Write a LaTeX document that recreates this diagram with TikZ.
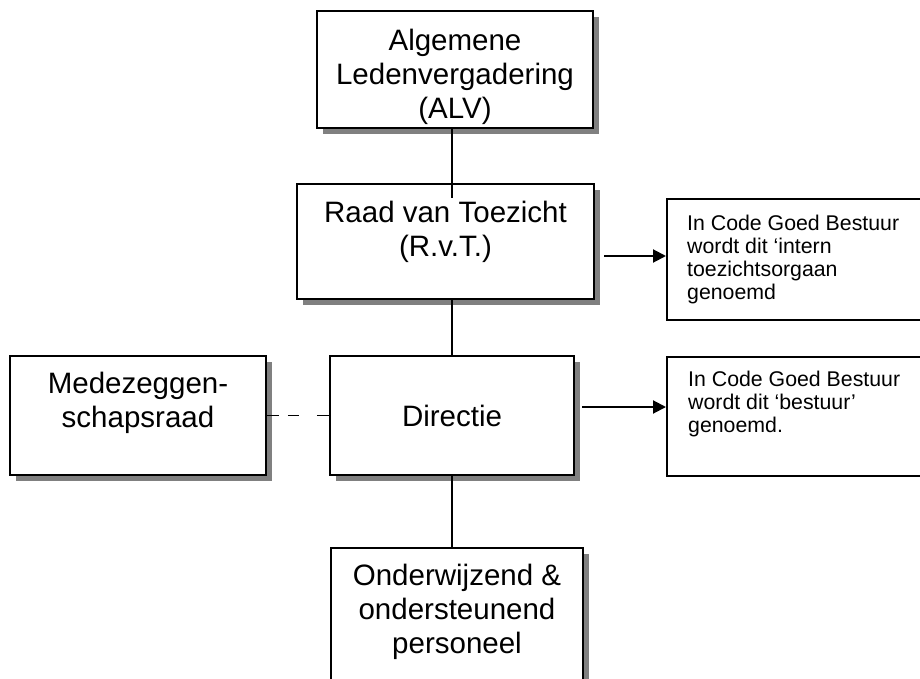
\documentclass[tikz,border=0pt]{standalone}
\usepackage{fontspec}
\setmainfont{Liberation Sans}
\usetikzlibrary{shadows,arrows.meta}
\tikzset{
  orgbox/.style={draw=black, line width=1.9pt, fill=white, inner sep=0pt,
    drop shadow={shadow xshift=6pt, shadow yshift=-6pt, fill=black!50, opacity=1}},
  notebox/.style={draw=black, line width=1.9pt, fill=white, inner sep=0pt},
  bigtxt/.style={font=\fontsize{29.5}{34}\selectfont, align=center, inner sep=0pt},
  smalltxt/.style={font=\fontsize{21.3}{22.8}\selectfont, align=left, inner sep=0pt},
  conn/.style={line width=1.6pt},
  arr/.style={line width=2pt, -{Triangle[length=13pt,width=13pt]}}
}
\begin{document}
\begin{tikzpicture}[x=1pt,y=-1pt]
\useasboundingbox (0,0) rectangle (920,679);
\clip (0,0) rectangle (920,679);
% boxes
\node[orgbox, minimum width=276pt, minimum height=117pt] (alv) at (455,69.5) {};
\node[orgbox, minimum width=297pt, minimum height=115pt] (rvt) at (445.5,241.5) {};
\node[orgbox, minimum width=244pt, minimum height=119pt] (dir) at (452,415.5) {};
\node[orgbox, minimum width=256pt, minimum height=119pt] (mzr) at (138,415.5) {};
\node[orgbox, minimum width=252pt, minimum height=160pt] (ow) at (457,628) {};
\node[notebox, minimum width=270pt, minimum height=121pt, anchor=north west] (n1) at (666,198) {};
\node[notebox, minimum width=270pt, minimum height=119pt, anchor=north west] (n2) at (666,356) {};
% texts
\node[bigtxt, anchor=north, yshift=-19pt] (alvt) at (alv.north) {Algemene\\Ledenvergadering\\(ALV)};
\node[bigtxt, anchor=north, yshift=-18pt] (rvtt) at (rvt.north) {Raad van Toezicht\\(R.v.T.)};
\node[bigtxt] (dirt) at (dir.center) {Directie};
\node[bigtxt, anchor=north, yshift=-17pt] (mzrt) at (mzr.north) {Medezeggen-\\schapsraad};
\node[bigtxt, anchor=north, yshift=-17pt] (owt) at (ow.north) {Onderwijzend \&\\ondersteunend\\personeel};
\node[smalltxt, anchor=north west, xshift=21pt, yshift=-17pt] (n1t) at (n1.north west) {In Code Goed Bestuur\\wordt dit ‘intern\\toezichtsorgaan\\genoemd};
\node[smalltxt, anchor=north west, xshift=22pt, yshift=-15pt] (n2t) at (n2.north west) {In Code Goed Bestuur\\wordt dit ‘bestuur’\\genoemd.};
% connectors
\coordinate (rvtin) at (452,198);
\draw[conn] (alv.south -| rvtin) -- (rvtin);
\draw[conn] (rvt.south -| rvtin) -- (dir.north -| rvtin);
\draw[conn] (dir.south -| rvtin) -- (ow.north -| rvtin);
\draw[conn, dash pattern=on 12pt off 9pt on 11pt off 18pt] (mzr.east) -- (dir.west);
\coordinate (a1s) at (604,256);
\coordinate (a2s) at (582,407);
\draw[arr] (a1s) -- (n1.west |- a1s) ;
\draw[arr] (a2s) -- (n2.west |- a2s);
\end{tikzpicture}
\end{document}
